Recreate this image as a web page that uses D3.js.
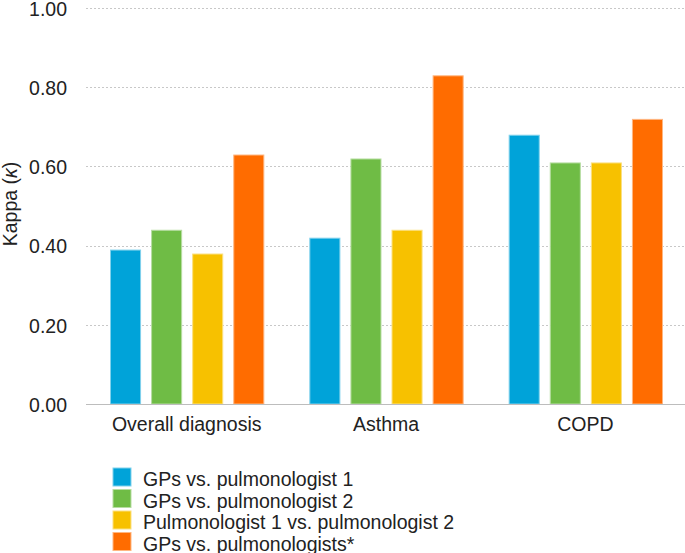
<!DOCTYPE html>
<html>
<head>
<meta charset="utf-8">
<script src="https://cdn.jsdelivr.net/npm/d3@7"></script>
<style>
  body { margin: 0; background: #fff; }
  svg { display: block; font-family: "Liberation Sans", Arial, sans-serif; }
</style>
</head>
<body>
<svg id="chart" width="685" height="553"></svg>
<script>
const categories = ["Overall diagnosis", "Asthma", "COPD"];
const seriesNames = [
  "GPs vs. pulmonologist 1",
  "GPs vs. pulmonologist 2",
  "Pulmonologist 1 vs. pulmonologist 2",
  "GPs vs. pulmonologists*"
];
const gpVsP1 = [0.39, 0.42, 0.68];
const gpVsP2 = [0.44, 0.62, 0.61];
const p1VsP2 = [0.38, 0.44, 0.61];
const gpVsPs = [0.63, 0.83, 0.72];
const yTicks = [0, 0.2, 0.4, 0.6, 0.8, 1.0];
const colors = ["#00A3D9", "#6FBC45", "#F7C100", "#FF6C00"];
const strokes = ["#80D1EC", "#B7DDA2", "#FBE080", "#FFB680"];

const seriesValues = [gpVsP1, gpVsP2, p1VsP2, gpVsPs];

const svg = d3.select("#chart");
const mLeft = 86, mRight = 685, mTop = 8, mBottom = 404;
const fs = 19.5;

const y = d3.scaleLinear().domain([0, 1]).range([mBottom, mTop]);
const x0 = d3.scaleBand().domain(categories).range([mLeft + 1, mRight]).padding(0);
const x1 = d3.scaleBand().domain(d3.range(seriesNames.length))
  .range([23, x0.bandwidth() - 22]).paddingInner(0.244).paddingOuter(0);

// gridlines
svg.append("g").selectAll("line").data(yTicks.filter(d => d > 0)).join("line")
  .attr("x1", mLeft).attr("x2", mRight)
  .attr("y1", d => Math.round(y(d)) + 0.5).attr("y2", d => Math.round(y(d)) + 0.5)
  .attr("stroke", "#c8c8c8").attr("stroke-width", 1).attr("stroke-dasharray", "2,2");

// y-axis tick labels
const yAxis = d3.axisLeft(y).tickValues(yTicks).tickFormat(d3.format(".2f")).tickSize(0).tickPadding(0);
const yg = svg.append("g").attr("transform", `translate(67,0)`).call(yAxis);
yg.select(".domain").remove();
yg.selectAll("text").attr("font-size", fs).attr("fill", "#222")
  .attr("font-family", '"Liberation Sans", Arial, sans-serif').attr("dy", "0.37em");

// bars
const groups = svg.append("g").selectAll("g").data(categories).join("g")
  .attr("transform", d => `translate(${x0(d)},0)`);
groups.selectAll("rect").data((d, i) => seriesValues.map((s, k) => ({k, v: s[i]}))).join("rect")
  .attr("x", d => x1(d.k) + 0.5)
  .attr("y", d => y(d.v) + 0.5)
  .attr("width", x1.bandwidth() - 1)
  .attr("height", d => mBottom - y(d.v) - 0.5)
  .attr("fill", d => colors[d.k])
  .attr("stroke", d => strokes[d.k])
  .attr("stroke-width", 1);

// baseline
svg.append("line").attr("x1", mLeft).attr("x2", mRight)
  .attr("y1", mBottom + 0.5).attr("y2", mBottom + 0.5)
  .attr("stroke", "#bdbdbd").attr("stroke-width", 1);

// x axis labels
const xAxis = d3.axisBottom(x0).tickSize(0).tickPadding(0);
const xg = svg.append("g").attr("transform", `translate(0,${mBottom})`).call(xAxis);
xg.select(".domain").remove();
xg.selectAll("text").attr("font-size", fs).attr("fill", "#222")
  .attr("font-family", '"Liberation Sans", Arial, sans-serif')
  .attr("dy", null).attr("y", 27);

// y axis title
const yt = svg.append("text")
  .attr("transform", "translate(17,204) rotate(-90)")
  .attr("text-anchor", "middle").attr("font-size", fs).attr("fill", "#222");
yt.append("tspan").text("Kappa (");
yt.append("tspan").attr("font-style", "italic").text("κ");
yt.append("tspan").text(")");

// legend
const legend = svg.append("g").selectAll("g").data(seriesNames).join("g")
  .attr("transform", (d, i) => `translate(113,${468 + i * 21.5})`);
legend.append("rect").attr("width", 18).attr("height", 18)
  .attr("fill", (d, i) => colors[i]).attr("stroke", (d, i) => strokes[i]).attr("stroke-width", 1);
legend.append("text").attr("x", 30).attr("y", 18).attr("font-size", fs).attr("fill", "#222")
  .text(d => d);
</script>
</body>
</html>
